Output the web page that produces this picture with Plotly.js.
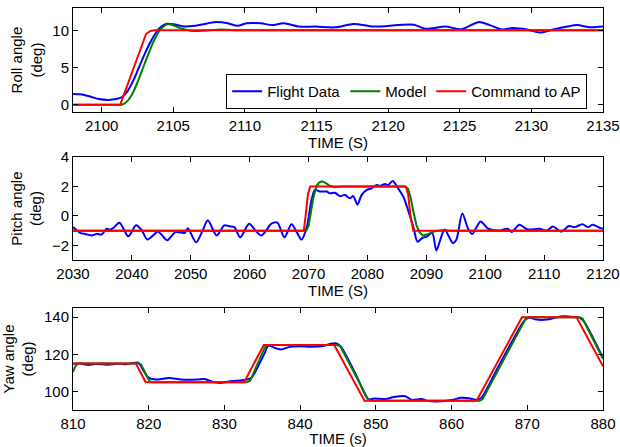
<!DOCTYPE html>
<html>
<head>
<meta charset="utf-8">
<script src="https://cdn.plot.ly/plotly-3.0.1.min.js"></script>
<style>html,body{margin:0;padding:0;background:#fff;}#chart{width:620px;height:447px;}</style>
</head>
<body>
<div id="chart"></div>
<script>
// ---- Roll panel ----
const rollFlightT = [2098, 2098.5, 2099.2, 2099.8, 2100.5, 2101.0, 2101.4, 2101.8, 2102.2, 2102.6, 2103.0, 2103.4, 2103.8, 2104.1, 2104.5, 2105.0, 2105.8, 2106.5, 2107.2, 2107.9, 2108.8, 2109.5, 2110.1, 2111.1, 2111.9, 2112.7, 2113.8, 2114.9, 2116.3, 2117.6, 2119.0, 2120.7, 2121.8, 2122.6, 2124.0, 2125.1, 2126.3, 2127.1, 2127.95, 2128.7, 2129.7, 2130.6, 2131.5, 2132.5, 2133.2, 2134.1, 2135];
const rollFlightV = [1.45, 1.4, 1.1, 0.75, 0.64, 0.75, 1.0, 1.8, 3.2, 5.0, 6.8, 8.4, 9.7, 10.4, 10.85, 10.8, 10.5, 10.6, 10.85, 11.1, 10.95, 10.6, 10.95, 10.95, 10.7, 10.95, 10.5, 10.5, 10.4, 10.85, 10.5, 10.7, 10.75, 10.2, 10.5, 10.15, 11.1, 10.7, 10.1, 10.3, 10.1, 9.7, 10.1, 10.5, 10.7, 10.4, 10.5];
const rollModelT = [2098, 2100, 2101.2, 2101.4, 2101.7, 2102.1, 2102.5, 2102.9, 2103.3, 2103.7, 2104.1, 2104.6, 2105.1, 2105.6, 2106.2, 2106.8, 2107.5, 2108.3, 2109, 2110, 2112, 2135];
const rollModelV = [0, 0, 0, 0, 0.3, 1.3, 3.0, 5.0, 7.0, 8.8, 10.1, 10.8, 10.6, 10.2, 9.95, 9.9, 10.0, 10.1, 10.05, 10, 10, 10];
const rollCmdT = [2098, 2101.3, 2103.1, 2103.4, 2103.7, 2135];
const rollCmdV = [0, 0, 9.5, 9.9, 10, 10];

// ---- Pitch panel ----
const pitchFlightT = [2030, 2030.6, 2031.2, 2032.2, 2033.2, 2034.0, 2034.9, 2035.7, 2036.3, 2036.9, 2037.9, 2039.4, 2040.7, 2041.7, 2042.6, 2043.9, 2044.4, 2045.1, 2046.0, 2047.4, 2049.0, 2049.5, 2050.9, 2052.0, 2052.9, 2054.4, 2055.7, 2056.6, 2057.4, 2058.4, 2059.9, 2061.0, 2062.0, 2063.7, 2064.7, 2065.9, 2067.1, 2068.0, 2068.8, 2069.7, 2070.5, 2071.1, 2071.9, 2073.1, 2073.6, 2074.5, 2075.3, 2076.2, 2077.0, 2077.6, 2078.3, 2079.0, 2079.9, 2080.7, 2081.6, 2082.1, 2083.0, 2083.5, 2084.3, 2085.2, 2086.1, 2086.9, 2087.8, 2088.5, 2089.3, 2090.1, 2091.0, 2091.7, 2092.5, 2093.1, 2094.5, 2095.1, 2096.1, 2097.1, 2097.8, 2099.2, 2100.5, 2102.5, 2103.8, 2104.5, 2105.8, 2107.2, 2109.2, 2110.5, 2111.5, 2112.9, 2114.2, 2115.2, 2116.5, 2117.5, 2118.2, 2119.6, 2120];
const pitchFlightV = [-0.76, -0.95, -1.15, -1.24, -1.33, -1.22, -1.25, -0.87, -0.94, -0.8, -0.46, -1.38, -0.64, -0.99, -1.6, -1.22, -1.05, -1.3, -1.65, -1.1, -1.15, -0.83, -1.79, -1.0, -0.3, -1.33, -0.64, -0.7, -0.76, -1.45, -0.53, -1.0, -1.33, -0.53, -0.46, -1.45, -0.57, -1.1, -1.61, -0.76, 1.08, 1.77, 1.66, 1.66, 1.54, 1.58, 1.35, 1.42, 1.2, 1.35, 0.77, 1.42, 1.77, 1.88, 2.11, 2.04, 2.18, 2.1, 2.38, 1.88, 1.31, 0.39, -0.76, -1.75, -1.5, -1.4, -1.15, -2.35, -1.45, -0.92, -1.84, -1.61, 0.16, -0.87, -1.22, -0.37, -0.87, -0.99, -0.87, -1.1, -0.6, -0.92, -0.87, -0.99, -0.71, -1.06, -0.69, -0.76, -0.57, -0.76, -0.6, -0.83, -0.85];
const pitchModelT = [2030, 2069.6, 2070.0, 2070.4, 2070.8, 2071.3, 2071.8, 2072.3, 2072.9, 2073.6, 2074.5, 2075.5, 2086.4, 2086.9, 2087.3, 2087.8, 2088.3, 2088.8, 2089.4, 2090.2, 2091.0, 2092.0, 2093.0, 2094.0, 2120];
const pitchModelV = [-1, -1, -0.7, 0.2, 1.2, 2.0, 2.28, 2.35, 2.25, 2.05, 1.95, 2.0, 2.0, 1.85, 1.3, 0.3, -0.6, -1.1, -1.33, -1.25, -1.1, -1.0, -0.95, -1.0, -1];
const pitchCmdT = [2030, 2069.2, 2069.5, 2069.9, 2070.3, 2086.5, 2086.9, 2087.3, 2087.8, 2120];
const pitchCmdV = [-1, -1, 0, 1.5, 2, 2, 1.5, 0, -1, -1];

// ---- Yaw panel ----
const yawFlightT = [810, 811, 812, 813, 814.5, 816, 817, 818.0, 818.6, 819.2, 819.8, 820.3, 821.2, 822.7, 824.3, 826.4, 827.4, 828.4, 829.5, 831, 832.3, 833.1, 833.6, 834.5, 835.3, 835.8, 836.8, 837.5, 838.6, 839.9, 841.4, 843, 844, 844.8, 845.4, 846.5, 847.6, 848.5, 849, 849.8, 851.3, 852.4, 853.9, 854.7, 856, 857, 858.6, 860.2, 861.2, 862.3, 863.2, 863.9, 866, 868, 869.5, 870.2, 871.2, 872.6, 873.9, 874.8, 876.3, 877.0, 877.6, 880];
const yawFlightV = [114.9, 115, 114.3, 114.8, 114.4, 114.9, 114.6, 115.3, 115.5, 112, 108, 106.8, 106.4, 107.3, 106.4, 106.4, 106.7, 105.2, 104.6, 105.6, 106, 106.6, 107.5, 114, 120.5, 124.5, 123.3, 122.6, 124, 124.4, 124.1, 124.4, 125.7, 125.8, 124, 116, 107, 99, 95.8, 96.2, 95.9, 97, 97.4, 95.5, 95.9, 94.8, 94.7, 95.5, 96.6, 96.3, 95.5, 96.5, 112, 127, 137.5, 139.8, 138.7, 138.7, 140, 140.5, 140, 139.5, 137, 118];
const yawModelT = [810, 810.3, 810.7, 818.6, 819.0, 820.1, 820.4, 833.0, 833.4, 835.4, 835.8, 844.9, 845.3, 849.0, 849.4, 863.7, 864.1, 869.8, 870.2, 876.9, 877.3, 880];
const yawModelV = [110.5, 113.5, 115, 115, 114.5, 105.5, 105, 105, 105.8, 124.2, 125, 125, 124.3, 95.6, 95, 95, 95.8, 139.3, 140, 140, 139.3, 117.5];
const yawCmdT = [810, 818.3, 819.6, 832.6, 835.2, 844.5, 848.5, 863.3, 869.3, 876.5, 880];
const yawCmdV = [115, 115, 105, 105, 125, 125, 95, 95, 140, 140, 113.5];

const seriesNames = ['Flight Data', 'Model', 'Command to AP'];
const colors = ['#0000ff', '#008000', '#ff0000'];

function mk(x, y, idx, xa, ya, show, smooth) {
  return {
    x: x, y: y, type: 'scatter', mode: 'lines', name: seriesNames[idx],
    xaxis: xa, yaxis: ya, showlegend: show,
    line: {color: colors[idx], width: 2, shape: smooth ? 'spline' : 'linear', smoothing: 0.8}
  };
}

const data = [
  mk(rollFlightT, rollFlightV, 0, 'x', 'y', true, true),
  mk(rollModelT, rollModelV, 1, 'x', 'y', true, true),
  mk(rollCmdT, rollCmdV, 2, 'x', 'y', true, false),
  mk(pitchFlightT, pitchFlightV, 0, 'x2', 'y2', false, true),
  mk(pitchModelT, pitchModelV, 1, 'x2', 'y2', false, false),
  mk(pitchCmdT, pitchCmdV, 2, 'x2', 'y2', false, false),
  mk(yawFlightT, yawFlightV, 0, 'x3', 'y3', false, true),
  mk(yawModelT, yawModelV, 1, 'x3', 'y3', false, false),
  mk(yawCmdT, yawCmdV, 2, 'x3', 'y3', false, false)
];

const FONT = 'Liberation Sans, Arial, sans-serif';
const FS = 15;
function axBase(extra) {
  return Object.assign({
    showline: true, linecolor: '#000', linewidth: 1, mirror: 'ticks',
    ticks: 'inside', ticklen: 5, tickwidth: 1, tickcolor: '#000',
    showgrid: false, zeroline: false, automargin: false,
    tickfont: {family: FONT, size: FS, color: '#000'}
  }, extra);
}
function xTitle(t) { return {text: t, font: {family: FONT, size: FS, color: '#000'}, standoff: 1}; }
function yTitle(t) { return {text: t, font: {family: FONT, size: FS, color: '#000'}, standoff: 6}; }

const layout = {
  width: 620, height: 447,
  margin: {l: 73, r: 17, t: 8, b: 37},
  paper_bgcolor: '#fff', plot_bgcolor: '#fff',
  font: {family: FONT, size: FS, color: '#000'},
  xaxis: axBase({domain: [0, 1], anchor: 'y', range: [2098, 2135], tick0: 2100, dtick: 5, title: xTitle('TIME (S)')}),
  yaxis: axBase({domain: [0.741, 1], anchor: 'x', range: [-1, 13], tickvals: [0, 5, 10], title: yTitle('Roll angle<br>(deg)')}),
  xaxis2: axBase({domain: [0, 1], anchor: 'y2', range: [2030, 2120], tick0: 2030, dtick: 10, title: xTitle('TIME (S)')}),
  yaxis2: axBase({domain: [0.373, 0.629], anchor: 'x2', range: [-3, 4], tickvals: [-2, 0, 2, 4], title: yTitle('Pitch angle<br>(deg)')}),
  xaxis3: axBase({domain: [0, 1], anchor: 'y3', range: [810, 880], tick0: 810, dtick: 10, title: xTitle('TIME (s)')}),
  yaxis3: axBase({domain: [0, 0.254], anchor: 'x3', range: [90, 145], tickvals: [100, 120, 140], title: yTitle('Yaw angle<br>(deg)')}),
  legend: {
    orientation: 'h', x: 0.289, y: 0.836, xanchor: 'left', yanchor: 'top',
    bordercolor: '#000', borderwidth: 1, bgcolor: '#fff',
    font: {family: FONT, size: FS, color: '#000'},
    itemwidth: 30, tracegroupgap: 0
  },
  showlegend: true
};

Plotly.newPlot('chart', data, layout, {displayModeBar: false, staticPlot: true});
</script>
</body>
</html>
